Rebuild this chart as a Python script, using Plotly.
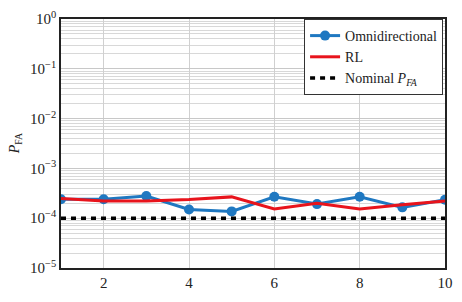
import plotly.graph_objects as go

n_vals = [1, 2, 3, 4, 5, 6, 7, 8, 9, 10]
omni = [2.4e-4, 2.4e-4, 2.78e-4, 1.5e-4, 1.37e-4, 2.7e-4, 1.92e-4, 2.7e-4, 1.65e-4, 2.35e-4]
rl = [2.5e-4, 2.22e-4, 2.22e-4, 2.38e-4, 2.68e-4, 1.53e-4, 2.0e-4, 1.53e-4, 1.86e-4, 2.22e-4]
nominal = [1e-4] * 10
ytick_vals = [1e-5, 1e-4, 1e-3, 1e-2, 1e-1, 1e0]
ytick_text = ["10<sup>\u22125</sup>", "10<sup>\u22124</sup>", "10<sup>\u22123</sup>",
              "10<sup>\u22122</sup>", "10<sup>\u22121</sup>", "10<sup>0</sup>"]
xtick_vals = [2, 4, 6, 8, 10]

fig = go.Figure()
fig.add_trace(go.Scatter(x=n_vals, y=omni, mode="lines+markers", name="Omnidirectional",
                         line=dict(color="#1f78c1", width=3),
                         marker=dict(size=10, color="#1f78c1")))
fig.add_trace(go.Scatter(x=n_vals, y=rl, mode="lines", name="RL",
                         line=dict(color="#e8141c", width=3)))
fig.add_trace(go.Scatter(x=n_vals, y=nominal, mode="lines", name="Nominal <i>P<sub>FA</sub></i>",
                         line=dict(color="black", width=3.5, dash="5px,5px")))

font = "Liberation Serif, Times New Roman, serif"
fig.update_layout(
    width=462, height=302,
    margin=dict(l=61, r=10, t=9, b=34),
    paper_bgcolor="white", plot_bgcolor="white",
    font=dict(family=font, size=15, color="#222"),
    showlegend=True,
    legend=dict(x=0.995, y=1.0, xanchor="right", yanchor="top",
                bgcolor="white", bordercolor="#333", borderwidth=1,
                font=dict(family=font, size=14), tracegroupgap=0,
                itemwidth=30),
    xaxis=dict(range=[1, 10], tickvals=xtick_vals, showgrid=True, gridcolor="#d0d0d0",
               gridwidth=1, showline=True, linecolor="#222", linewidth=1.5, mirror=True,
               ticks="", zeroline=False, tickfont=dict(size=15)),
    yaxis=dict(type="log", range=[-5, 0], tickvals=ytick_vals, ticktext=ytick_text,
               showgrid=True, gridcolor="#c8c8c8", gridwidth=1,
               minor=dict(showgrid=True, gridcolor="#d8d8d8", gridwidth=1, ticks="",
                          tickvals=[m * 10 ** e for e in range(-5, 0) for m in range(2, 10)]),
               showline=True, linecolor="#222", linewidth=1.5, mirror=True,
               ticks="", zeroline=False, tickfont=dict(size=15)),
)
fig.add_annotation(text="<i>P</i><sub>FA</sub>", xref="paper", yref="paper", x=-0.145, y=0.5,
                   textangle=-90, showarrow=False, font=dict(family=font, size=14))
fig.add_annotation(text="<i>n</i>", xref="paper", yref="paper", x=0.5, y=-0.16,
                   yanchor="top", showarrow=False, font=dict(family=font, size=14))
fig.write_html("out.html")
